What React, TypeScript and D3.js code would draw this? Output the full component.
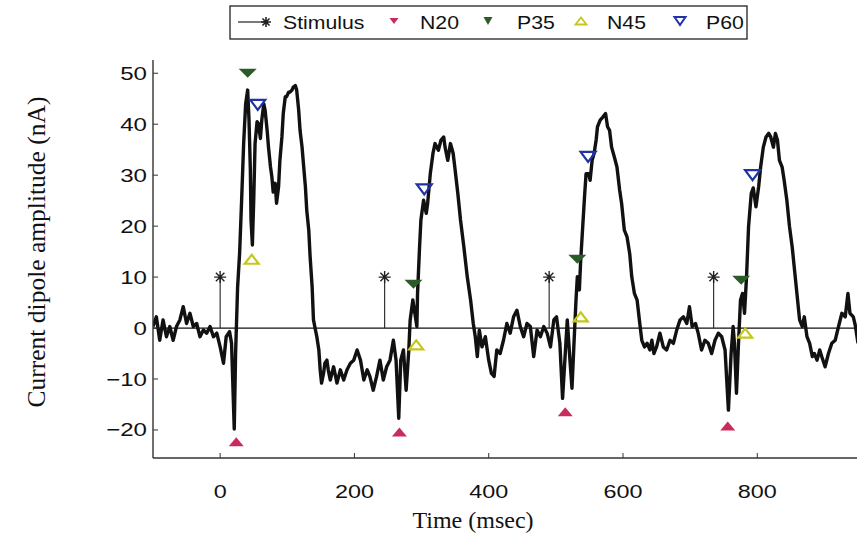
import React from "react";
import * as d3 from "d3";

// ---- data ----
const timesMs = [
  -100, -95, -90, -85, -80, -75, -70, -65, -60, -55, -50, -45, -40, -35, -30, -25, -20, -15, -10, -5, 0,
  5, 9, 14, 17, 21, 23, 26, 29, 32, 35, 38, 41, 43, 45, 46, 48, 50, 52, 55, 57,
  60, 62, 65, 67, 70, 72, 75, 77, 79, 82, 84, 87, 89, 92, 94, 97, 99, 102, 104, 107,
  109, 112, 114, 117, 119, 122, 124, 127, 129, 132, 134, 137, 139, 142, 144, 147, 149, 151, 154, 156, 159, 161,
  164, 169, 174, 179, 184, 189, 194, 199, 204, 209, 214, 219, 223, 228, 233, 238, 243, 248, 253, 258, 262, 266,
  269, 273, 277, 281, 283, 287, 290, 293, 294, 297, 299, 303, 307, 309, 313, 317, 320, 325, 329, 333,
  335, 339, 343, 347, 350, 354, 358, 363, 368, 373, 377, 380, 383, 386, 390, 395, 400,
  404, 408, 412, 417, 422, 427, 432, 437, 442, 447, 452, 457, 462, 467, 472, 477, 482, 487, 492, 497,
  501, 506, 510, 514, 517, 521, 524, 527, 530, 532, 535, 537, 540, 543, 545, 549, 551, 554, 557, 560,
  562, 566, 570, 574, 577, 580, 583, 587, 591, 595, 598, 602, 606, 610, 613, 617, 621, 625, 628, 632,
  636, 640, 643, 646, 650, 655, 660,
  665, 670, 675, 680, 685, 690, 695, 699, 703, 708, 712, 717, 722, 727, 732, 737, 742, 747, 752, 757,
  761, 764, 766, 769, 772, 775, 778, 781, 784, 787, 791, 794, 798, 802, 805, 809, 813, 817, 820, 824,
  827, 830, 833, 837, 840, 844, 848, 852, 855, 859, 863, 867, 870, 874, 878, 882, 885, 889, 893, 896,
  901, 906, 911, 916, 921, 926, 931, 935, 938, 943, 946, 950,
];

const dipoleAmplitude = [
  0.3, 2.2, -2.4, 1.6, -1.7, 0.3, -2.4, 0.3, 1.6, 4.2, 0.9, 2.9, 0.3, 0.9, -1.7, -0.4, -1, 0.3, -1.7, -1, -3.7,
  -6.9, -1.7, -0.7, -3, -19.8, -5, 8, 14.7, 25.1, 36.2, 44, 46.7, 40.8, 31, 21.2, 16.3, 25.1, 36.2, 40.5, 40.1,
  37.2, 40.8, 44, 42.7, 38.8, 35.5, 31.6, 29.7, 26.7, 28.4, 24.5, 27.7, 32.9, 37.5, 42.1, 45.4, 45.4, 46.3, 46.3, 46.7,
  47.3, 47.6, 46.7, 42.7, 38.8, 35.5, 32.3, 27.7, 23.1, 19.2, 14, 8.1, 1.6, -0.4, -1.7, -4.3, -8.2, -10.8, -8.9, -6.9, -6.3, -8.2,
  -10.2, -7.6, -10.8, -8.2, -10.2, -8.2, -6.9, -6.3, -4.3, -6.3, -10.2, -8.2, -9.5, -12.2, -9.5, -6.3, -10.2, -7.6, -6.3, -2.4, -6.3, -17.7,
  -6.3, -4.3, -12.2, -4.3, 1.6, 5.5, 2.9, 0.3, 6.8, 15.9, 21.2, 25.1, 22.5, 24.4, 30.3, 34.3, 36.2, 34.9, 36.9, 37.5,
  35.5, 32.9, 36.2, 34.3, 31, 26.4, 21.2, 15.9, 10.1, 5.5, 0.9, -1.7, -5.6, -0.4, -3.7, -1.7, -6.3,
  -8.9, -9.5, -4.3, -5, -2.4, 0.9, -1, 2.2, 3.5, 0.3, -1.7, 0.9, 0.3, -5.6, -0.4, -1.7, 0.3, -1, -3.7, 1.6,
  2.2, -3, -13.8, -5, 1.6, -6.3, -11.8, -3, 5.5, 10.1, 7.5, 13.3, 19.9, 26.4, 30.3, 30.3, 29, 32.9, 34.3, 36.9,
  39.5, 40.8, 41.4, 42.1, 39.5, 38.8, 35.5, 33.6, 31.6, 27.1, 24.4, 19.2, 17.9, 14.6, 10.1, 6.8, 5.5, 0.9, -2.4, -3.7,
  -3, -4.3, -2.4, -5, -3.7, -1, -3.7,
  -4.3, -2.4, -3, -0.4, 1.6, 2.2, 0.9, 4.2, 0.3, 0.9, -1, -4.3, -2.4, -3, -5, -2.4, -1, -1.7, -4.3, -16.1,
  -5, 0.3, -3, -12.8, -3, 5.5, 6.8, 2.9, 10.1, 19.9, 26.4, 27.5, 23.8, 27.7, 31.6, 35.5, 37.5, 38.2, 37.5, 35.5,
  38.2, 36.9, 32.9, 31.6, 29, 25.1, 19.9, 15.9, 12, 6.8, 1.6, 0.3, 2.2, -1.7, -3, -5.6, -5, -6.3, -4.3, -5.6,
  -7.6, -5, -3, -2.4, 0.3, 2.9, 2.2, 6.8, 2.9, 2.2, 0.5, -3,
];

const stimulusTimes = [0, 245, 490, 735];
const stimulusLevel = 10;

const n20Times = [24, 267, 514, 756];
const n20Values = [-22.3, -20.4, -16.4, -19.2];
const p35Times = [41, 288, 532, 776];
const p35Values = [50, 8.6, 13.5, 9.4];
const n45Times = [47, 292, 537, 782];
const n45Values = [13.5, -3.3, 2.2, -1.0];
const p60Times = [56, 304, 548, 793];
const p60Values = [43.8, 27.2, 33.6, 30];

const yTicks = [-20, -10, 0, 10, 20, 30, 40, 50];
const xTicks = [0, 200, 400, 600, 800];

const legendLabels = ["Stimulus", "N20", "P35", "N45", "P60"];

// ---- styling ----
const W = 857;
const H = 537;
const C_N20 = "#c92b5c";
const C_P35 = "#2c5b2a";
const C_N45 = "#c6c61c";
const C_P60 = "#1f33a6";
const SANS = "'Liberation Sans', Arial, Helvetica, sans-serif";
const SERIF = "'Liberation Serif', 'Times New Roman', serif";
const SX = 1.3; // horizontal stretch of the sans labels

const triUp = (cx: number, cy: number, w: number, h: number) =>
  `M${cx - w / 2},${cy + h / 2}L${cx + w / 2},${cy + h / 2}L${cx},${cy - h / 2}Z`;
const triDown = (cx: number, cy: number, w: number, h: number) =>
  `M${cx - w / 2},${cy - h / 2}L${cx + w / 2},${cy - h / 2}L${cx},${cy + h / 2}Z`;

const asterisk = (cx: number, cy: number, r: number) => {
  let d = "";
  for (let i = 0; i < 4; i++) {
    const a = (i * Math.PI) / 4;
    const dx = Math.cos(a) * r;
    const dy = Math.sin(a) * r;
    d += `M${cx - dx},${cy - dy}L${cx + dx},${cy + dy}`;
  }
  return d;
};

export default function App() {
  const x = d3.scaleLinear().domain([-100, 950]).range([153, 858]);
  const y = d3.scaleLinear().domain([-25.5, 52.6]).range([458, 60]);

  const pts = timesMs.map((t, i) => [t, dipoleAmplitude[i]] as [number, number]);
  const line = d3
    .line<[number, number]>()
    .x((d) => x(d[0]))
    .y((d) => y(d[1]));

  const x0 = x.range()[0];
  const x1 = x.range()[1];
  const yTop = y.range()[1];
  const yBot = y.range()[0];

  // legend layout
  const lgY = 22;
  const lgText = [283, 420, 517, 607, 706];

  return (
    <svg
      width={W}
      height={H}
      viewBox={`0 0 ${W} ${H}`}
      style={{ position: "absolute", left: 0, top: 0, background: "#fff" }}
    >
      <rect x={0} y={0} width={W} height={H} fill="#fff" />
      <defs>
        <clipPath id="plotclip">
          <rect x={x0} y={yTop - 10} width={x1 - x0} height={yBot - yTop + 10} />
        </clipPath>
      </defs>

      {/* zero line */}
      <line x1={x0} x2={x1} y1={y(0)} y2={y(0)} stroke="#111" strokeWidth={1.2} />

      {/* stimulus stems */}
      {stimulusTimes.map((t, i) => (
        <g key={"s" + i}>
          <line x1={x(t)} x2={x(t)} y1={y(0)} y2={y(stimulusLevel)} stroke="#222" strokeWidth={1.1} />
          <path d={asterisk(x(t), y(stimulusLevel), 6)} stroke="#222" strokeWidth={1.4} fill="none" />
        </g>
      ))}

      {/* waveform */}
      <path
        d={line(pts) || ""}
        fill="none"
        stroke="#111"
        strokeWidth={3.4}
        strokeLinejoin="round"
        clipPath="url(#plotclip)"
      />

      {/* peak markers */}
      {n20Times.map((t, i) => (
        <path key={"n20" + i} d={triUp(x(t), y(n20Values[i]), 15, 9)} fill={C_N20} />
      ))}
      {p35Times.map((t, i) => (
        <path key={"p35" + i} d={triDown(x(t), y(p35Values[i]), 18, 9)} fill={C_P35} />
      ))}
      {n45Times.map((t, i) => (
        <path
          key={"n45" + i}
          d={triUp(x(t), y(n45Values[i]), 14, 9)}
          fill="none"
          stroke={C_N45}
          strokeWidth={2.2}
        />
      ))}
      {p60Times.map((t, i) => (
        <path
          key={"p60" + i}
          d={triDown(x(t), y(p60Values[i]), 15, 10)}
          fill="none"
          stroke={C_P60}
          strokeWidth={2.2}
        />
      ))}

      {/* axes */}
      <line x1={x0} x2={x0} y1={yTop} y2={yBot} stroke="#333" strokeWidth={1.4} />
      <line x1={x0} x2={x1} y1={yBot} y2={yBot} stroke="#333" strokeWidth={1.4} />
      {yTicks.map((v) => (
        <g key={"yt" + v}>
          <line x1={x0} x2={x0 + 5} y1={y(v)} y2={y(v)} stroke="#333" strokeWidth={1} />
          <text
            transform={`translate(${x0 - 6},${y(v) + 6.5}) scale(${SX},1)`}
            textAnchor="end"
            fontFamily={SANS}
            fontSize={18.5}
            fill="#111"
          >
            {v < 0 ? "\u2212" + Math.abs(v) : String(v)}
          </text>
        </g>
      ))}
      {xTicks.map((v) => (
        <g key={"xt" + v}>
          <line x1={x(v)} x2={x(v)} y1={yBot} y2={yBot - 5} stroke="#333" strokeWidth={1} />
          <text
            transform={`translate(${x(v)},${yBot + 40}) scale(${SX},1)`}
            textAnchor="middle"
            fontFamily={SANS}
            fontSize={18}
            fill="#111"
          >
            {String(v)}
          </text>
        </g>
      ))}

      {/* axis titles */}
      <text x={473} y={528} textAnchor="middle" fontFamily={SERIF} fontSize={24} fill="#111">
        Time (msec)
      </text>
      <text
        transform={`translate(45,252) rotate(-90)`}
        textAnchor="middle"
        fontFamily={SERIF}
        fontSize={25.5}
        fill="#111"
      >
        Current dipole amplitude (nA)
      </text>

      {/* legend */}
      <rect x={230} y={6} width={517} height={33} fill="#fff" stroke="#222" strokeWidth={1.3} />
      <line x1={238} x2={266} y1={lgY} y2={lgY} stroke="#222" strokeWidth={1.2} />
      <path d={asterisk(266, lgY, 5)} stroke="#222" strokeWidth={1.6} fill="none" />
      <path d={triDown(394, lgY - 1, 9, 6)} fill={C_N20} />
      <path d={triDown(488, lgY - 1, 9, 8)} fill={C_P35} />
      <path d={triUp(581, lgY - 1, 11, 7)} fill="none" stroke={C_N45} strokeWidth={1.8} />
      <path d={triDown(680, lgY - 1, 11, 8)} fill="none" stroke={C_P60} strokeWidth={2} />
      {legendLabels.map((s, i) => (
        <text
          key={"lg" + i}
          transform={`translate(${lgText[i]},${lgY + 6.5}) scale(1.18,1)`}
          fontFamily={SANS}
          fontSize={18}
          fill="#111"
        >
          {s}
        </text>
      ))}
    </svg>
  );
}
